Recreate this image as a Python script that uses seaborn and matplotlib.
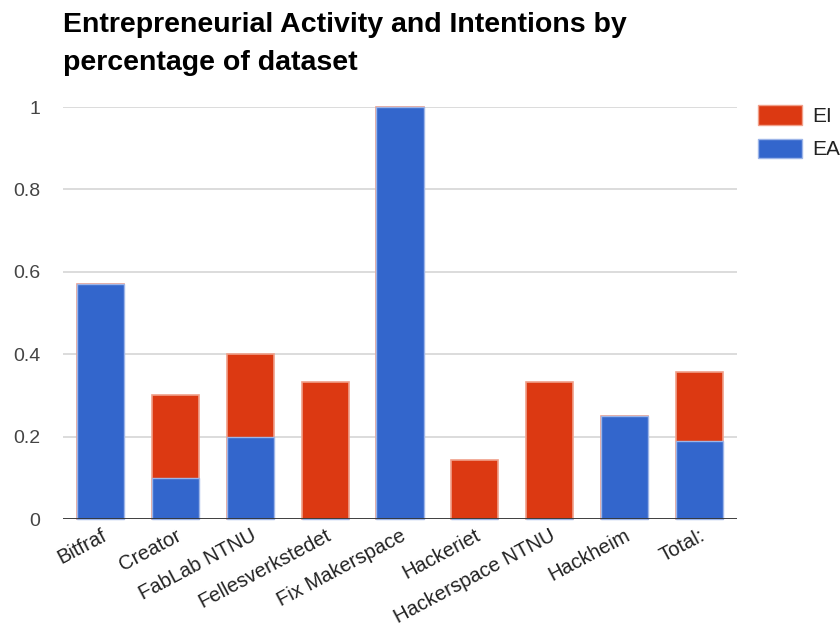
import matplotlib
matplotlib.use("Agg")
import matplotlib.pyplot as plt
from matplotlib.patches import Patch
import seaborn as sns
import pandas as pd

# Share of each makerspace's respondents with entrepreneurial activity (EA)
# and entrepreneurial intentions (EI)
categories = ["Bitfraf", "Creator", "FabLab NTNU", "Fellesverkstedet",
              "Fix Makerspace", "Hackeriet", "Hackerspace NTNU", "Hackheim", "Total:"]
ea_values = [0.571, 0.1, 0.2, 0.0, 1.0, 0.0, 0.0, 0.25, 0.19]
ei_values = [0.0, 0.2, 0.2, 0.333, 0.0, 0.143, 0.333, 0.0, 0.166]
y_ticks = [0, 0.2, 0.4, 0.6, 0.8, 1]
y_tick_labels = ["0", "0.2", "0.4", "0.6", "0.8", "1"]

BLUE = "#3366cc"
RED = "#dc3912"
BLUE_EDGE = "#9db5e8"
RED_EDGE = "#f0a08a"

df = pd.DataFrame({"site": categories, "EA": ea_values, "EI": ei_values})
df["total"] = df["EA"] + df["EI"]

sns.set_theme(style="white")
plt.rcParams["font.family"] = ["Liberation Sans", "DejaVu Sans"]

fig = plt.figure(figsize=(8.4, 6.42), dpi=100)
ax = fig.add_axes([63 / 840, 1 - 519 / 642, (737 - 63) / 840, 412 / 642])

# stacked bars: full height in red, EA part drawn over it in blue
sns.barplot(data=df, x="site", y="total", color=RED, width=0.63, ax=ax,
            edgecolor=RED_EDGE, linewidth=1.2, saturation=1, zorder=2)
sns.barplot(data=df, x="site", y="EA", color=BLUE, width=0.63, ax=ax,
            edgecolor=BLUE_EDGE, linewidth=1.0, saturation=1, zorder=3)

ax.set_ylim(0, 1)
ax.set_xlim(-0.5, len(categories) - 0.5)
ax.set_yticks(y_ticks)
ax.set_yticklabels(y_tick_labels)
ax.yaxis.grid(True, color="#d6d6d6", linewidth=1.2, zorder=0)
ax.set_axisbelow(True)
ax.axhline(0, color="#333333", linewidth=1.3, zorder=4)
for side in ["left", "right", "top", "bottom"]:
    ax.spines[side].set_visible(False)
ax.tick_params(axis="y", length=0, pad=16.5, labelsize=14, labelcolor="#444444")
ax.tick_params(axis="x", length=0, pad=5, labelsize=14.5, labelcolor="#222222")
ax.set_xlabel("")
ax.set_ylabel("")
plt.setp(ax.get_xticklabels(), rotation=28, ha="right", rotation_mode="anchor")
for p in ax.patches:
    p.set_clip_on(False)

fig.text(63 / 840, 1 - 12 / 642,
         "Entrepreneurial Activity and Intentions by\npercentage of dataset",
         ha="left", va="top", fontsize=20.5, fontweight="bold", color="#000000",
         linespacing=1.6)

handles = [Patch(facecolor=RED, edgecolor=RED_EDGE, linewidth=1.0),
           Patch(facecolor=BLUE, edgecolor=BLUE_EDGE, linewidth=1.0)]
fig.legend(handles, ["EI", "EA"], loc="upper left",
           bbox_to_anchor=(750 / 840, 1 - 97 / 642), frameon=False,
           fontsize=15, handlelength=2.1, handleheight=1.06,
           labelspacing=0.6, handletextpad=0.5, borderaxespad=0,
           labelcolor="#222222")

fig.savefig("out.png", dpi=100)
